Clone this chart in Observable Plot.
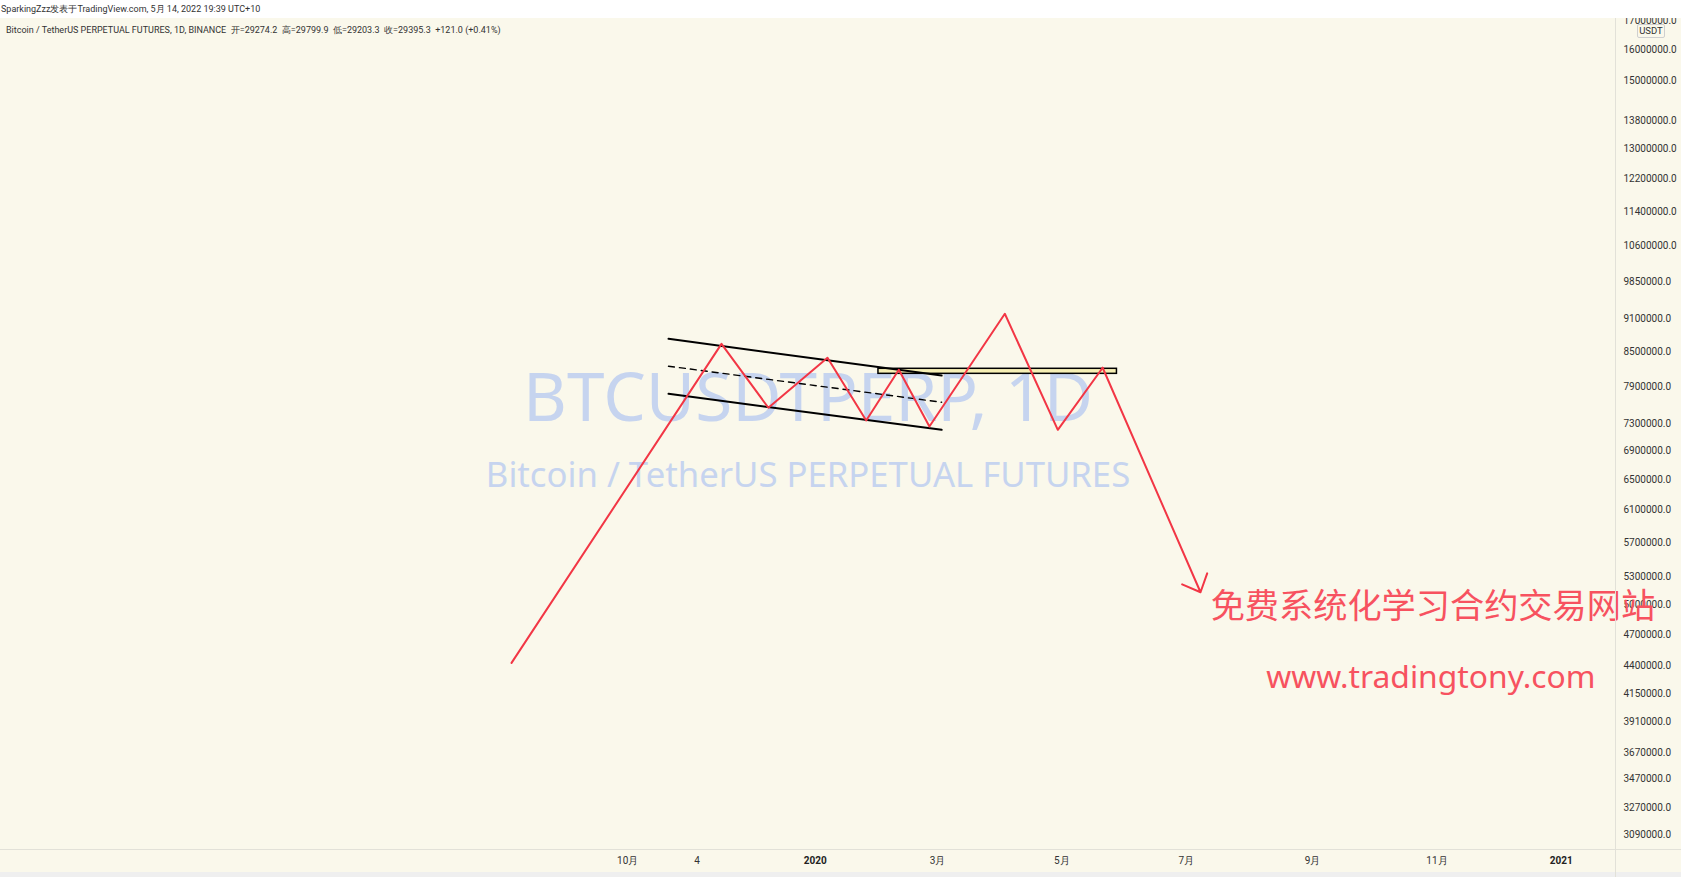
<!DOCTYPE html>
<html>
<head>
<meta charset="utf-8">
<script src="https://cdn.jsdelivr.net/npm/d3@7"></script>
<script src="https://cdn.jsdelivr.net/npm/@observablehq/plot@0.6"></script>
<style>
  html, body { margin: 0; padding: 0; width: 1681px; height: 877px; overflow: hidden; background: #efefef; font-family: Roboto, "Noto Sans", sans-serif; }
  #topbar { position: absolute; left: 0; top: 0; width: 1681px; height: 18px; background: #ffffff; font-size: 9px; color: #333; line-height: 18px; white-space: nowrap; }
  #topbar span { padding-left: 1px; }
  #chart { position: absolute; left: 0; top: 18px; background: #faf8eb; }
  #legend { position: absolute; left: 6px; top: 24px; font-size: 9px; color: #333; white-space: nowrap; }
  #usdt { position: absolute; left: 1637px; top: 24px; width: 26px; height: 12px; border: 1px solid #cfcfcf; border-radius: 2px; background: #faf8eb; font-size: 9.5px; color: #333; line-height: 12px; text-align: center; }
  .vsep { position: absolute; left: 1615px; top: 18px; width: 1px; height: 859px; background: #e2e1d8; }
  .hsep { position: absolute; left: 0; top: 849px; width: 1681px; height: 1px; background: #e2e1d8; }
</style>
</head>
<body>
<div id="topbar"><span>SparkingZzz发表于TradingView.com, 5月 14, 2022 19:39 UTC+10</span></div>
<div id="chart"></div>
<div id="legend">Bitcoin / TetherUS PERPETUAL FUTURES, 1D, BINANCE &nbsp;开=29274.2 &nbsp;高=29799.9 &nbsp;低=29203.3 &nbsp;收=29395.3 &nbsp;+121.0 (+0.41%)</div>
<div class="vsep"></div>
<div class="hsep"></div>
<div id="usdt">USDT</div>
<script>
// ---- Data ----
// Red zigzag drawing (date, price)
const zigDates  = ["2019-08-05", "2019-11-16", "2019-12-09", "2020-01-07", "2020-01-26", "2020-02-11", "2020-02-26", "2020-04-03", "2020-04-29", "2020-05-21"];
const zigPrices = [4428000, 8640000, 7557000, 8392000, 7358000, 8183000, 7266000, 9202000, 7216000, 8218000];
// Final arrow leg
const arrowFrom = {date: "2020-05-21", price: 8218000};
const arrowTo   = {date: "2020-07-08", price: 5134000};

// Channel lines
const channelDates = ["2019-10-21", "2020-03-03"];
const upperPrices  = [8731000, 8085000];
const lowerPrices  = [7781000, 7216000];
const midPrices    = [8245000, 7645000];

// Horizontal zone rectangle
const zoneDates  = ["2020-02-01", "2020-05-28"];
const zonePrices = [8114000, 8200000];

// Annotations
const noteCN  = {text: "免费系统化学习合约交易网站", date: "2020-10-30", price: 4982000};
const noteURL = {text: "www.tradingtony.com", date: "2020-10-29", price: 4288000};
const watermark1 = "BTCUSDTPERP, 1D";
const watermark2 = "Bitcoin / TetherUS PERPETUAL FUTURES";

// Axis ticks
const yTicks = [17000000, 16000000, 15000000, 13800000, 13000000, 12200000, 11400000, 10600000, 9850000,
  9100000, 8500000, 7900000, 7300000, 6900000, 6500000, 6100000, 5700000, 5300000, 5000000,
  4700000, 4400000, 4150000, 3910000, 3670000, 3470000, 3270000, 3090000];
const monthTickDates  = ["2019-10-01", "2019-11-04", "2020-03-01", "2020-05-01", "2020-07-01", "2020-09-01", "2020-11-01"];
const monthTickLabels = ["10月", "4", "3月", "5月", "7月", "9月", "11月"];
const yearTickDates   = ["2020-01-01", "2021-01-01"];
const yearTickLabels  = ["2020", "2021"];

// ---- Build ----
const D = s => new Date(s);
const zig = zigDates.map((d, i) => ({date: D(d), price: zigPrices[i]}));
const upper = channelDates.map((d, i) => ({date: D(d), price: upperPrices[i]}));
const lower = channelDates.map((d, i) => ({date: D(d), price: lowerPrices[i]}));
const mid = channelDates.map((d, i) => ({date: D(d), price: midPrices[i]}));
const zone = [{x1: D(zoneDates[0]), x2: D(zoneDates[1]), y1: zonePrices[0], y2: zonePrices[1]}];
const arrow = [{x1: D(arrowFrom.date), y1: arrowFrom.price, x2: D(arrowTo.date), y2: arrowTo.price}];
const monthMap = new Map(monthTickDates.map((d, i) => [+D(d), monthTickLabels[i]]));
const yearMap = new Map(yearTickDates.map((d, i) => [+D(d), yearTickLabels[i]]));

const red = "#f23645";
const wmColor = "#c6d4ef";

const chart = Plot.plot({
  width: 1681,
  height: 854,
  marginLeft: 0,
  marginRight: 66,
  marginTop: 0,
  marginBottom: 22,
  style: {background: "#faf8eb", fontFamily: "Roboto, 'Noto Sans', sans-serif", overflow: "hidden"},
  x: {type: "utc", domain: [D("2018-11-27T07:00:00Z"), D("2021-01-27T14:00:00Z")]},
  y: {type: "log", domain: [2988400, 17084600]},
  marks: [
    Plot.axisY({anchor: "right", ticks: yTicks, tickSize: 0, tickPadding: 8, fontSize: 10, fill: "#333",
      tickFormat: d => d.toFixed(1), label: null}),
    Plot.axisX({ticks: monthTickDates.map(D), tickSize: 0, tickPadding: 6, fontSize: 10, fill: "#333",
      tickFormat: d => monthMap.get(+d), label: null}),
    Plot.axisX({ticks: yearTickDates.map(D), tickSize: 0, tickPadding: 6, fontSize: 10, fill: "#222", fontWeight: "bold",
      tickFormat: d => yearMap.get(+d), label: null}),
    Plot.text([watermark1], {frameAnchor: "middle", dy: -35, fontSize: 67.5, fill: wmColor, fontFamily: "'Noto Sans', sans-serif"}),
    Plot.text([watermark2], {frameAnchor: "middle", dy: 41, fontSize: 34.7, fill: wmColor, fontFamily: "'Noto Sans', sans-serif"}),
    Plot.rect(zone, {x1: "x1", x2: "x2", y1: "y1", y2: "y2", fill: "#f6efb4", stroke: "#000", strokeWidth: 1.5}),
    Plot.line(upper, {x: "date", y: "price", stroke: "#000", strokeWidth: 2}),
    Plot.line(lower, {x: "date", y: "price", stroke: "#000", strokeWidth: 2}),
    Plot.line(mid, {x: "date", y: "price", stroke: "#000", strokeWidth: 1.4, strokeDasharray: "6,5"}),
    Plot.line(zig, {x: "date", y: "price", stroke: red, strokeWidth: 2}),
    Plot.arrow(arrow, {x1: "x1", y1: "y1", x2: "x2", y2: "y2", stroke: red, strokeWidth: 2, headAngle: 86, headLength: 15}),
    Plot.text([noteCN], {x: d => D(d.date), y: "price", text: "text", fontSize: 34.2, fill: "#f7525f",
      fontFamily: "'Noto Sans CJK SC', sans-serif"}),
    Plot.text([noteURL], {x: d => D(d.date), y: "price", text: "text", fontSize: 31.8, fill: "#f7525f",
      fontFamily: "'Noto Sans', sans-serif"})
  ]
});
document.getElementById("chart").appendChild(chart);
</script>
</body>
</html>
